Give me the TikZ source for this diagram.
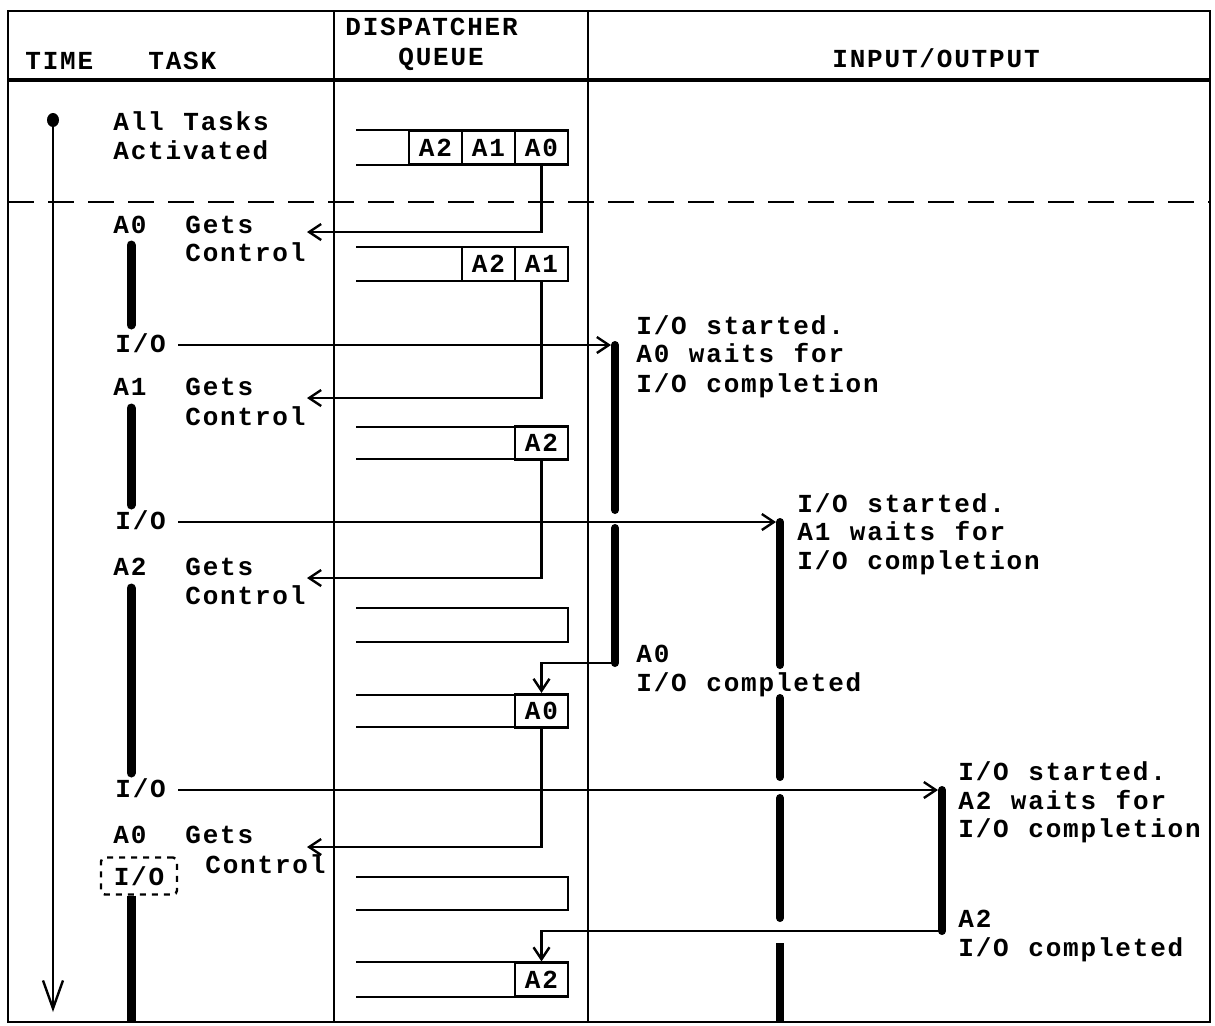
\documentclass[tikz,border=0pt]{standalone}
\usepackage{fontspec}
\setmonofont[LetterSpace=7,WordSpace=1.12]{Liberation Mono}
\usetikzlibrary{arrows.meta,calc,positioning,shapes.geometric}
\newcommand{\typist}{\fontsize{13}{15}\selectfont\ttfamily\bfseries}

\begin{document}
\begin{tikzpicture}[x=0.5pt,y=-0.5pt,
        txt/.style={font=\typist,inner sep=0pt,anchor=base west},
        frame/.style={line width=1.4pt},
        conn/.style={line width=1.2pt},
        arr/.style={-{Straight Barb[length=6pt,width=8pt]}},
        runbar/.style={line width=4.5pt,line cap=round},
        waitbar/.style={line width=4pt,line cap=round},
        cell/.style={draw,line width=1.1pt,minimum width=26.5pt,minimum height=17pt,inner sep=0pt,font=\typist}]
    \useasboundingbox (0,0) rectangle (1215,1025);
    %Frame
    \draw[frame] (8,11) rectangle (1210,1022);
    \draw[frame,line width=1.8pt] (8,80) -- (1210,80);
    \draw[frame] (334,11) -- (334,1022);
    \draw[frame] (588,11) -- (588,1022);
    \draw[frame,dash pattern=on 13pt off 7pt] (8,202) -- (1210,202);
    %Headings
    \node[txt] (hTime) at (25,69) {TIME};
    \node[txt] (hTask) at (148,69) {TASK};
    \node[txt] (hDisp) at (345,35) {DISPATCHER};
    \node[txt] (hQueue) at (398,65) {QUEUE};
    \node[txt] (hIO) at (832,67) {INPUT/OUTPUT};
    %Time axis
    \node[ellipse,fill,inner sep=0pt,minimum width=6pt,minimum height=7pt] (start) at (53,120) {};
    \coordinate (tEnd) at (53,1012);
    \draw[conn,-{Straight Barb[length=14pt,width=10pt]}] (start) -- (tEnd);
    %Task column
    \node[txt] (all) at (113,130) {All Tasks};
    \node[txt] (act) at (113,159) {Activated};
    \node[txt] (a0) at (113,233) {A0};
    \node[txt] (g0) at (185,233) {Gets};
    \node[txt] (c0) at (185,261) {Control};
    \node[txt] (io0) at (115,352) {I/O};
    \node[txt] (a1) at (113,395) {A1};
    \node[txt] (g1) at (185,395) {Gets};
    \node[txt] (c1) at (185,425) {Control};
    \node[txt] (io1) at (115,529) {I/O};
    \node[txt] (a2) at (113,575) {A2};
    \node[txt] (g2) at (185,575) {Gets};
    \node[txt] (c2) at (185,604) {Control};
    \node[txt] (io2) at (115,797) {I/O};
    \node[txt] (a3) at (113,843) {A0};
    \node[txt] (g3) at (185,843) {Gets};
    \node[txt] (c3) at (205,873) {Control};
    \node[draw,dashed,line width=1.2pt,rounded corners=2pt,inner sep=0pt,minimum width=38pt,minimum height=18.5pt,font=\typist] (iobox) at (139,876) {I/O};
    %Running bars
    \draw[runbar] (131,245) -- (131,325);
    \draw[runbar] (131,408) -- (131,505);
    \draw[runbar] (131,588) -- (131,773);
    \draw[runbar,line cap=butt] (iobox.south -| 131,0) -- (131,1022);
    %Queues
    \foreach \t/\b in {130/165,247/281,427/459,608/642,695/727,877/910,962/997}
        \draw[conn,line width=1.2pt] (356,\t) -- (568,\t) -- (568,\b) -- (356,\b);
    \node[cell] (q1a2) at (435.5,147.5) {A2};
    \node[cell] (q1a1) at (488.5,147.5) {A1};
    \node[cell] (q1a0) at (541.5,147.5) {A0};
    \node[cell] (q2a2) at (488.5,264) {A2};
    \node[cell] (q2a1) at (541.5,264) {A1};
    \node[cell] (q3a2) at (541.5,443) {A2};
    \node[cell] (q5a0) at (541.5,711) {A0};
    \node[cell] (q7a2) at (541.5,979.5) {A2};
    %Dispatch arrows
    \coordinate (t0) at (307,232);
    \coordinate (t1) at (307,398);
    \coordinate (t2) at (307,578);
    \coordinate (t3) at (307,847);
    \draw[conn,arr] (q1a0.south) |- (t0);
    \draw[conn,arr] (q2a1.south) |- (t1);
    \draw[conn,arr] (q3a2.south) |- (t2);
    \draw[conn,arr] (q5a0.south) |- (t3);
    %Input/output
    \coordinate (w0) at (615,345);
    \coordinate (d0) at (615,663);
    \coordinate (w1) at (780,522);
    \coordinate (w2) at (942,790);
    \coordinate (d2) at (942,931);
    \draw[conn,arr,shorten <=6pt,shorten >=2pt] (io0.east |- w0) -- (w0);
    \draw[conn,arr,shorten <=6pt,shorten >=2pt] (io1.east |- w1) -- (w1);
    \draw[conn,arr,shorten <=6pt,shorten >=2pt] (io2.east |- w2) -- (w2);
    \draw[waitbar] (w0) -- (615,510);
    \draw[waitbar] (615,528) -- (d0);
    \draw[waitbar] (w1) -- (780,665);
    \draw[waitbar] (780,698) -- (780,777);
    \draw[waitbar] (780,798) -- (780,918);
    \draw[waitbar,line cap=butt] (780,943) -- (780,1022);
    \draw[waitbar] (w2) -- (d2);
    \draw[conn,arr] (d0) -| (q5a0.north);
    \draw[conn,arr] (d2) -| (q7a2.north);
    \node[txt] (s0) at (636,334) {I/O started.};
    \node[txt] (s0b) at (636,362) {A0 waits for};
    \node[txt] (s0c) at (636,392) {I/O completion};
    \node[txt] (s1) at (797,512) {I/O started.};
    \node[txt] (s1b) at (797,540) {A1 waits for};
    \node[txt] (s1c) at (797,569) {I/O completion};
    \node[txt] (e0) at (636,662) {A0};
    \node[txt] (e0b) at (636,691) {I/O completed};
    \node[txt] (s2) at (958,780) {I/O started.};
    \node[txt] (s2b) at (958,809) {A2 waits for};
    \node[txt] (s2c) at (958,837) {I/O completion};
    \node[txt] (e2) at (958,927) {A2};
    \node[txt] (e2b) at (958,956) {I/O completed};
\end{tikzpicture}
\end{document}
